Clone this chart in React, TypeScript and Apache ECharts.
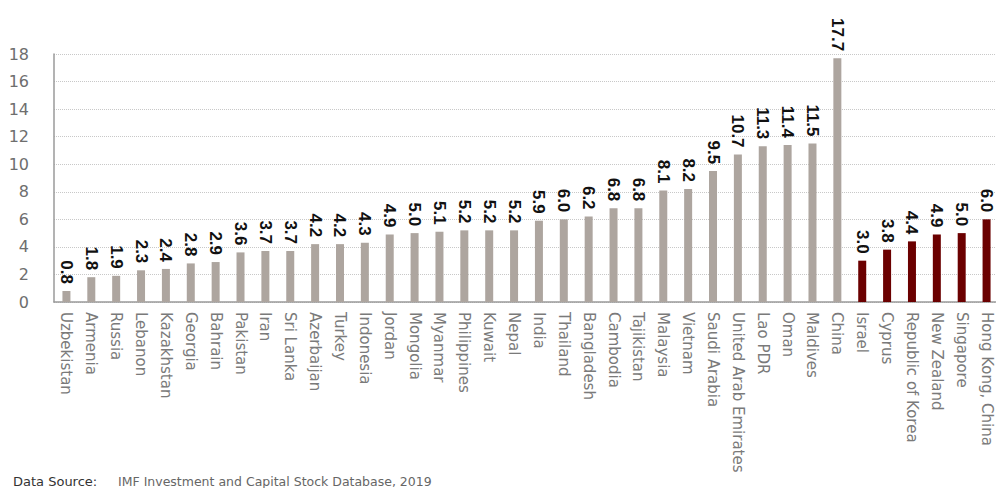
import React, { useEffect, useRef } from "react";
import * as echarts from "echarts";

const categories: string[] = [
  "Uzbekistan", "Armenia", "Russia", "Lebanon", "Kazakhstan", "Georgia", "Bahrain",
  "Pakistan", "Iran", "Sri Lanka", "Azerbaijan", "Turkey", "Indonesia", "Jordan",
  "Mongolia", "Myanmar", "Philippines", "Kuwait", "Nepal", "India", "Thailand",
  "Bangladesh", "Cambodia", "Tajikistan", "Malaysia", "Vietnam", "Saudi Arabia",
  "United Arab Emirates", "Lao PDR", "Oman", "Maldives", "China",
  "Israel", "Cyprus", "Republic of Korea", "New Zealand", "Singapore", "Hong Kong, China",
];

const values: number[] = [
  0.8, 1.8, 1.9, 2.3, 2.4, 2.8, 2.9, 3.6, 3.7, 3.7, 4.2, 4.2, 4.3, 4.9, 5.0, 5.1,
  5.2, 5.2, 5.2, 5.9, 6.0, 6.2, 6.8, 6.8, 8.1, 8.2, 9.5, 10.7, 11.3, 11.4, 11.5, 17.7,
  3.0, 3.8, 4.4, 4.9, 5.0, 6.0,
];

// which group each category belongs to (0 = developing Asia, 1 = advanced)
const groups: number[] = [
  0, 0, 0, 0, 0, 0, 0, 0, 0, 0, 0, 0, 0, 0, 0, 0, 0, 0, 0, 0, 0, 0, 0, 0, 0, 0, 0,
  0, 0, 0, 0, 0,
  1, 1, 1, 1, 1, 1,
];

const groupColors: string[] = ["#ada59f", "#6b0000"];

const yTicks = { min: 0, max: 18, interval: 2 };

const sourceLabel = "Data Source:";
const sourceText = "IMF Investment and Capital Stock Database, 2019";

export default function App() {
  const ref = useRef<HTMLDivElement | null>(null);

  useEffect(() => {
    if (!ref.current) return;
    const chart = echarts.init(ref.current, null, { renderer: "svg" });
    chart.setOption({
      animation: false,
      backgroundColor: "#ffffff",
      grid: { left: 54, top: 54, right: 1, bottom: 186, containLabel: false },
      xAxis: {
        type: "category",
        data: categories,
        axisLine: { show: true, lineStyle: { color: "#9a9a9a", width: 1.5 } },
        axisTick: { show: false },
        axisLabel: {
          rotate: -90,
          interval: 0,
          color: "#7a7a7a",
          fontFamily: "DejaVu Sans",
          fontSize: 15,
          margin: 10,
        },
      },
      yAxis: {
        type: "value",
        min: yTicks.min,
        max: yTicks.max,
        interval: yTicks.interval,
        axisLine: { show: true, lineStyle: { color: "#9a9a9a", width: 1.5 } },
        axisTick: { show: false },
        splitLine: { show: true, lineStyle: { color: "#c8c8c8", type: "dotted", width: 1 } },
        axisLabel: {
          color: "#6e6e6e",
          fontFamily: "DejaVu Sans",
          fontSize: 16,
          margin: 25,
        },
      },
      series: [
        {
          type: "bar",
          barWidth: 8,
          data: values.map((v, i) => ({
            value: v,
            itemStyle: { color: groupColors[groups[i]] },
          })),
          label: {
            show: true,
            position: "top",
            rotate: -90,
            align: "right",
            verticalAlign: "middle",
            distance: 7,
            color: "#111",
            fontWeight: "bold",
            fontFamily: "Liberation Sans",
            fontSize: 17,
            formatter: (p: any) => Number(p.value).toFixed(1),
          },
        },
      ],
      graphic: [
        {
          type: "text",
          left: 13,
          top: 475,
          style: {
            text: sourceLabel,
            fill: "#333",
            font: "13px 'DejaVu Sans'",
          },
        },
        {
          type: "text",
          left: 118,
          top: 475,
          style: {
            text: sourceText,
            fill: "#666",
            font: "12.5px 'DejaVu Sans'",
          },
        },
      ],
    });
    return () => chart.dispose();
  }, []);

  return (
    <div style={{ position: "fixed", left: 0, top: 0, width: 996, height: 488, overflow: "hidden", background: "#fff" }}>
      <div ref={ref} style={{ width: 1000, height: 488 }} />
    </div>
  );
}
